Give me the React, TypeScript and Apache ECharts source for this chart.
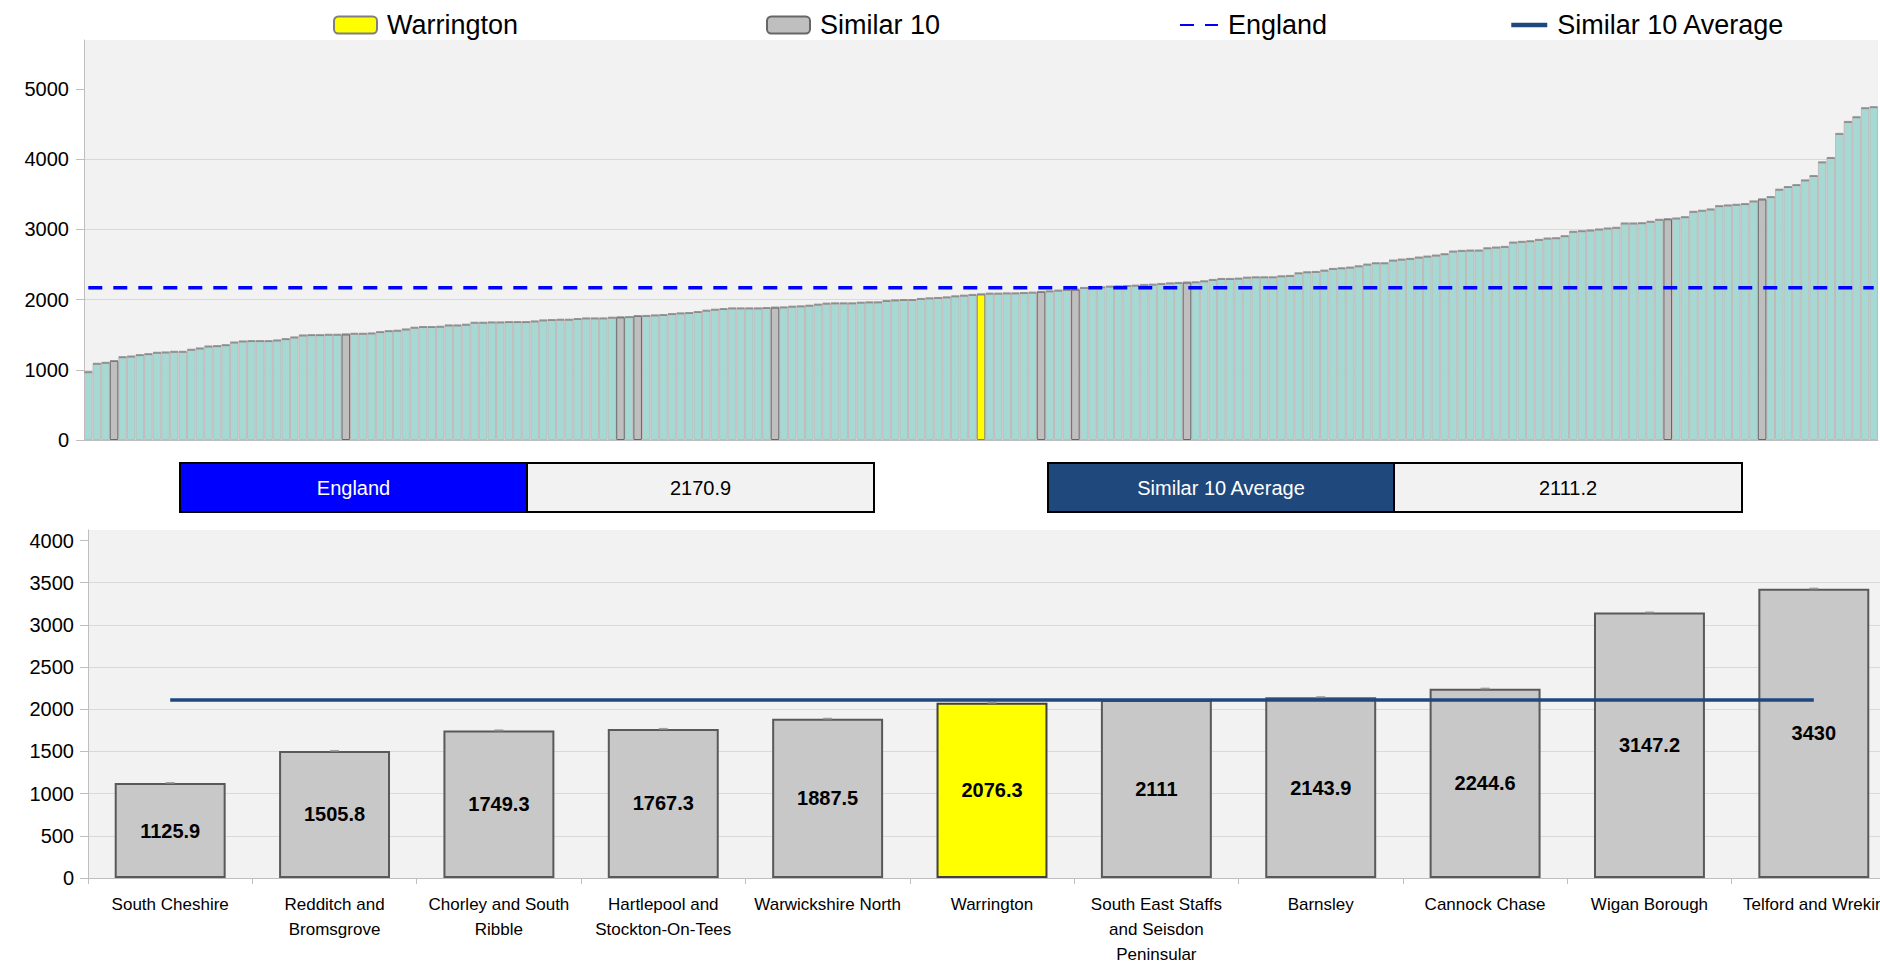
import React, { useEffect, useRef } from "react";
import * as echarts from "echarts";

// All CCGs in England, sorted ascending
const englandValues: number[] = [
  967, 1086, 1100, 1125.9, 1181, 1190, 1210, 1224, 1243, 1248,
  1257, 1257, 1286, 1305, 1333, 1338, 1352, 1390, 1405, 1410,
  1410, 1410, 1419, 1438, 1462, 1490, 1495, 1495, 1500, 1500,
  1505.8, 1514, 1514, 1519, 1538, 1552, 1557, 1576, 1600, 1610,
  1610, 1614, 1633, 1633, 1643, 1671, 1671, 1676, 1676, 1681,
  1681, 1681, 1690, 1705, 1710, 1714, 1714, 1724, 1733, 1733,
  1733, 1743, 1749.3, 1752, 1767.3, 1768, 1776, 1781, 1795, 1805,
  1810, 1824, 1843, 1857, 1867, 1876, 1876, 1876, 1876, 1881,
  1887.5, 1890, 1900, 1905, 1914, 1929, 1943, 1948, 1948, 1948,
  1957, 1962, 1962, 1981, 1990, 1995, 1995, 2010, 2019, 2024,
  2033, 2048, 2057, 2067, 2076.3, 2086, 2086, 2090, 2090, 2095,
  2100, 2111, 2119, 2129, 2138, 2143.9, 2167, 2171, 2176, 2186,
  2190, 2195, 2200, 2210, 2214, 2224, 2233, 2238, 2244.6, 2248,
  2262, 2281, 2295, 2295, 2300, 2314, 2319, 2319, 2319, 2333,
  2338, 2376, 2391, 2395, 2414, 2438, 2448, 2457, 2476, 2500,
  2519, 2519, 2557, 2571, 2581, 2600, 2614, 2629, 2648, 2686,
  2695, 2700, 2700, 2733, 2743, 2752, 2814, 2824, 2833, 2852,
  2871, 2876, 2905, 2967, 2976, 2986, 3000, 3014, 3024, 3086,
  3086, 3090, 3110, 3138, 3147.2, 3157, 3176, 3252, 3267, 3286,
  3333, 3343, 3352, 3362, 3400, 3430, 3462, 3567, 3605, 3633,
  3700, 3762, 3957, 4019, 4362, 4533, 4600, 4729, 4743,
];

const similarNames: string[] = [
  "South Cheshire",
  "Redditch and Bromsgrove",
  "Chorley and South Ribble",
  "Hartlepool and Stockton-On-Tees",
  "Warwickshire North",
  "Warrington",
  "South East Staffs and Seisdon Peninsular",
  "Barnsley",
  "Cannock Chase",
  "Wigan Borough",
  "Telford and Wrekin",
];
const similarLabels: string[] = [
  "South Cheshire",
  "Redditch and\nBromsgrove",
  "Chorley and South\nRibble",
  "Hartlepool and\nStockton-On-Tees",
  "Warwickshire North",
  "Warrington",
  "South East Staffs\nand Seisdon\nPeninsular",
  "Barnsley",
  "Cannock Chase",
  "Wigan Borough",
  "Telford and Wrekin",
];
const similarValues: number[] = [
  1125.9, 1505.8, 1749.3, 1767.3, 1887.5, 2076.3, 2111, 2143.9, 2244.6, 3147.2, 3430,
];
const focusName = "Warrington";
const englandAverage = 2170.9;
const similarAverage = 2111.2;
const topTicks: number[] = [0, 1000, 2000, 3000, 4000, 5000];
const bottomTicks: number[] = [0, 500, 1000, 1500, 2000, 2500, 3000, 3500, 4000];

const FONT = "'Liberation Sans', Arial, sans-serif";

export default function App() {
  const ref = useRef<HTMLDivElement>(null);

  useEffect(() => {
    if (!ref.current) return;
    const chart = echarts.init(ref.current, undefined, { renderer: "svg" });

    const focusIdx = similarNames.indexOf(focusName);
    const focusValue = similarValues[focusIdx];
    const otherSimilar = similarValues.filter((_, i) => i !== focusIdx);

    const topCats = englandValues.map((_, i) => String(i + 1));
    const topOther = englandValues.map((v) =>
      similarValues.includes(v) ? "-" : v
    );
    const topSimilar = englandValues.map((v) =>
      otherSimilar.includes(v) ? v : "-"
    );
    const topFocus = englandValues.map((v) => (v === focusValue ? v : "-"));
    const topEngland = englandValues.map(() => englandAverage);

    const botSimilar = similarValues.map((v, i) => (i === focusIdx ? "-" : v));
    const botFocus = similarValues.map((v, i) => (i === focusIdx ? v : "-"));
    const botAverage = similarValues.map(() => similarAverage);

    const legendText = {
      fontSize: 27,
      fontFamily: FONT,
      color: "#000",
      lineHeight: 30,
      padding: [0, 0, 0, 5],
    };
    const lineLegendItem = { opacity: 0, borderWidth: 0 };

    const barLabel = {
      show: true,
      position: "inside",
      fontSize: 20,
      fontWeight: "bold",
      fontFamily: FONT,
      color: "#000",
    };

    chart.setOption({
      animation: false,
      backgroundColor: "#ffffff",
      textStyle: { fontFamily: FONT },
      legend: [
        {
          data: ["Warrington"],
          left: 333,
          top: 10,
          padding: 0,
          itemWidth: 43,
          itemHeight: 17,
          textStyle: legendText,
        },
        {
          data: ["Similar 10"],
          left: 766,
          top: 10,
          padding: 0,
          itemWidth: 43,
          itemHeight: 17,
          textStyle: legendText,
        },
        {
          data: ["England"],
          left: 1179,
          top: 10,
          padding: 0,
          itemWidth: 38,
          itemHeight: 17,
          itemStyle: lineLegendItem,
          textStyle: legendText,
        },
        {
          data: ["Similar 10 Average"],
          left: 1509,
          top: 10,
          padding: 0,
          itemWidth: 36,
          itemHeight: 17,
          itemStyle: lineLegendItem,
          lineStyle: { width: 4.5 },
          textStyle: legendText,
        },
      ],
      grid: [
        {
          left: 84,
          top: 40,
          width: 1794,
          height: 400,
          show: true,
          backgroundColor: "#f2f2f2",
          borderWidth: 0,
          outerBoundsMode: "none",
          containLabel: false,
        },
        {
          left: 88,
          top: 530,
          width: 1808,
          height: 348,
          show: true,
          backgroundColor: "#f2f2f2",
          borderWidth: 0,
          outerBoundsMode: "none",
          containLabel: false,
        },
      ],
      xAxis: [
        {
          type: "category",
          gridIndex: 0,
          data: topCats,
          axisLine: { show: true, lineStyle: { color: "#bfbfbf", width: 1 } },
          axisTick: { show: false },
          axisLabel: { show: false },
          splitLine: { show: false },
        },
        {
          type: "category",
          gridIndex: 1,
          data: similarLabels,
          axisLine: { show: true, lineStyle: { color: "#bfbfbf", width: 1 } },
          axisTick: { show: true, length: 6, lineStyle: { color: "#bfbfbf" } },
          axisLabel: {
            interval: 0,
            fontSize: 17,
            lineHeight: 25,
            margin: 14,
            color: "#000",
            fontFamily: FONT,
            hideOverlap: false,
          },
        },
      ],
      yAxis: [
        {
          type: "value",
          gridIndex: 0,
          min: 0,
          max: 5700,
          interval: 1000,
          axisLine: { show: true, lineStyle: { color: "#bfbfbf", width: 1 } },
          axisTick: {
            show: true,
            length: 8,
            lineStyle: { color: "#bfbfbf" },
            customValues: topTicks,
          },
          axisLabel: {
            customValues: topTicks,
            formatter: (v: number) => String(v),
            fontSize: 20,
            color: "#000",
            margin: 15,
            fontFamily: FONT,
          },
          splitLine: {
            show: true,
            showMaxLine: false,
            lineStyle: { color: "#d9d9d9", width: 1 },
          },
        },
        {
          type: "value",
          gridIndex: 1,
          min: 0,
          max: 4125,
          interval: 500,
          axisLine: { show: true, lineStyle: { color: "#bfbfbf", width: 1 } },
          axisTick: {
            show: true,
            length: 8,
            lineStyle: { color: "#bfbfbf" },
            customValues: bottomTicks,
          },
          axisLabel: {
            customValues: bottomTicks,
            formatter: (v: number) => String(v),
            fontSize: 20,
            color: "#000",
            margin: 14,
            fontFamily: FONT,
          },
          splitLine: {
            show: true,
            showMaxLine: false,
            lineStyle: { color: "#d9d9d9", width: 1 },
          },
        },
      ],
      series: [
        {
          name: "All CCGs",
          type: "bar",
          xAxisIndex: 0,
          yAxisIndex: 0,
          data: topOther,
          barCategoryGap: 0,
          barGap: "-100%",
          itemStyle: { color: "#a6d9d4", borderColor: "#c3b9b9", borderWidth: 1 },
        },
        {
          name: "Similar 10",
          type: "bar",
          xAxisIndex: 0,
          yAxisIndex: 0,
          data: topSimilar,
          barCategoryGap: 0,
          barGap: "-100%",
          itemStyle: { color: "#bfbfbf", borderColor: "#666666", borderWidth: 1 },
        },
        {
          name: "Warrington",
          type: "bar",
          xAxisIndex: 0,
          yAxisIndex: 0,
          data: topFocus,
          barCategoryGap: 0,
          barGap: "-100%",
          itemStyle: { color: "#ffff00", borderColor: "#7f7f7f", borderWidth: 1 },
        },
        {
          name: "Top caps",
          type: "scatter",
          xAxisIndex: 0,
          yAxisIndex: 0,
          data: englandValues,
          symbol: "rect",
          symbolSize: [8, 2],
          itemStyle: { color: "#808080" },
          silent: true,
          z: 3,
        },
        {
          name: "England",
          type: "line",
          xAxisIndex: 0,
          yAxisIndex: 0,
          data: topEngland,
          symbol: "none",
          lineStyle: { color: "#0000ff", width: 3.5, type: [14, 11] },
          itemStyle: { color: "#0000ff" },
          z: 5,
        },
        {
          name: "Similar 10",
          type: "bar",
          xAxisIndex: 1,
          yAxisIndex: 1,
          data: botSimilar,
          barCategoryGap: "32.5%",
          barGap: "-100%",
          itemStyle: { color: "#c8c8c8", borderColor: "#595959", borderWidth: 2 },
          label: barLabel,
        },
        {
          name: "Warrington",
          type: "bar",
          xAxisIndex: 1,
          yAxisIndex: 1,
          data: botFocus,
          barCategoryGap: "32.5%",
          barGap: "-100%",
          itemStyle: { color: "#ffff00", borderColor: "#404040", borderWidth: 2 },
          label: barLabel,
        },
        {
          name: "Bottom caps",
          type: "scatter",
          xAxisIndex: 1,
          yAxisIndex: 1,
          data: similarValues,
          symbol: "rect",
          symbolSize: [9, 2],
          itemStyle: { color: "#8c8c8c" },
          silent: true,
          z: 3,
        },
        {
          name: "Similar 10 Average",
          type: "line",
          xAxisIndex: 1,
          yAxisIndex: 1,
          data: botAverage,
          symbol: "none",
          lineStyle: { color: "#1f497d", width: 3.5 },
          itemStyle: { color: "#1f497d" },
          z: 5,
        },
      ],
      graphic: [
        {
          type: "rect",
          shape: { x: 180, y: 463, width: 347, height: 49 },
          style: { fill: "#0000ff", stroke: "#000", lineWidth: 2 },
        },
        {
          type: "rect",
          shape: { x: 527, y: 463, width: 347, height: 49 },
          style: { fill: "#f2f2f2", stroke: "#000", lineWidth: 2 },
        },
        {
          type: "text",
          x: 353.5,
          y: 488,
          style: {
            text: "England",
            fill: "#ffffff",
            fontSize: 20,
            fontFamily: FONT,
            align: "center",
            verticalAlign: "middle",
          },
        },
        {
          type: "text",
          x: 700.5,
          y: 488,
          style: {
            text: String(englandAverage),
            fill: "#000000",
            fontSize: 20,
            fontFamily: FONT,
            align: "center",
            verticalAlign: "middle",
          },
        },
        {
          type: "rect",
          shape: { x: 1048, y: 463, width: 346, height: 49 },
          style: { fill: "#1f497d", stroke: "#000", lineWidth: 2 },
        },
        {
          type: "rect",
          shape: { x: 1394, y: 463, width: 348, height: 49 },
          style: { fill: "#f2f2f2", stroke: "#000", lineWidth: 2 },
        },
        {
          type: "text",
          x: 1221,
          y: 488,
          style: {
            text: "Similar 10 Average",
            fill: "#ffffff",
            fontSize: 20,
            fontFamily: FONT,
            align: "center",
            verticalAlign: "middle",
          },
        },
        {
          type: "text",
          x: 1568,
          y: 488,
          style: {
            text: String(similarAverage),
            fill: "#000000",
            fontSize: 20,
            fontFamily: FONT,
            align: "center",
            verticalAlign: "middle",
          },
        },
      ],
    });

    return () => {
      chart.dispose();
    };
  }, []);

  return (
    <div
      ref={ref}
      style={{ position: "fixed", left: 0, top: 0, width: 1880, height: 963 }}
    />
  );
}
